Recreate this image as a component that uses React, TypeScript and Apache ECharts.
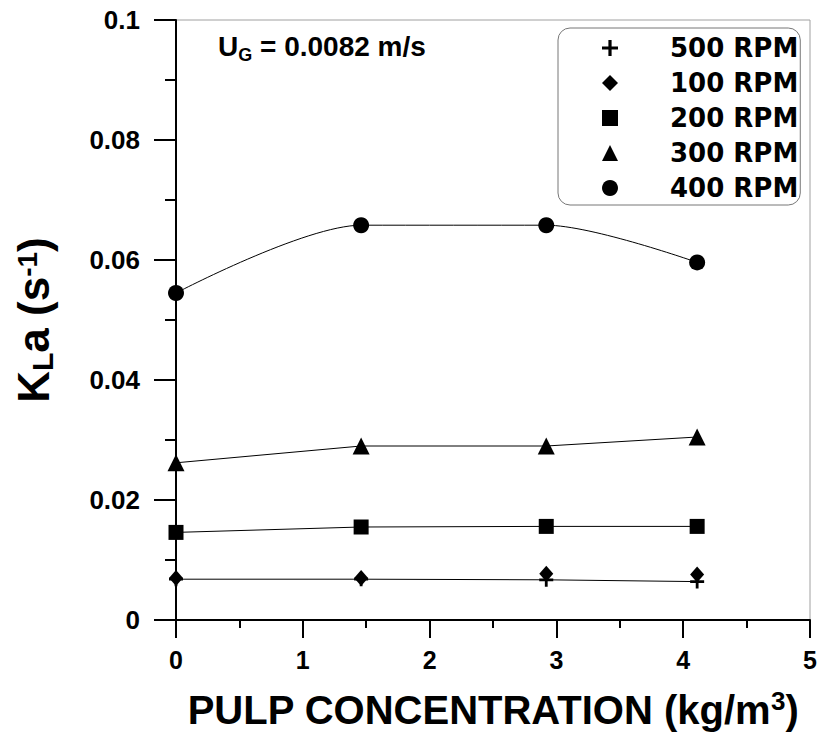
import React, { useEffect, useRef } from "react";
import * as echarts from "echarts";

// Pulp concentration (kg/m3) at which kLa was measured
const concentration = [0, 1.46, 2.92, 4.11];

// kLa (s^-1) for each impeller speed
const rpm500 = [0.0068, 0.0068, 0.0067, 0.0064];
const rpm100 = [0.007, 0.007, 0.0077, 0.0076];
const rpm200 = [0.0146, 0.0155, 0.0156, 0.0156];
const rpm300 = [0.0262, 0.029, 0.029, 0.0305];
const rpm400 = [0.0545, 0.0658, 0.0658, 0.0596];

const seriesNames = ["500 RPM", "100 RPM", "200 RPM", "300 RPM", "400 RPM"];
const xTicks = [0, 1, 2, 3, 4, 5];

const PLUS = "path://M4,0H6V4H10V6H6V10H4V6H0V4H4Z";
const FONT = "'Liberation Sans', Arial, Helvetica, sans-serif";
const WIDE = "'DejaVu Sans', Verdana, sans-serif";

const pairs = (ys: number[]) => concentration.map((x, i) => [x, ys[i]]);

const bold = (size: number, extra: any = {}) => ({
  fontFamily: FONT,
  fontWeight: "bold",
  fontSize: size,
  lineHeight: size,
  color: "#000",
  ...extra,
});

export default function App() {
  const ref = useRef<HTMLDivElement>(null);

  useEffect(() => {
    if (!ref.current) return;
    const chart = echarts.init(ref.current, null, { renderer: "svg" });

    const symbols = [PLUS, "diamond", "rect", "triangle", "circle"];
    const sizes: any[] = [14, [14, 16], 15, 17, 16];
    const values = [rpm500, rpm100, rpm200, rpm300, rpm400];

    chart.setOption({
      animation: false,
      backgroundColor: "#fff",
      textStyle: { fontFamily: FONT },
      grid: {
        left: 176,
        top: 20,
        right: 8,
        bottom: 114,
        outerBoundsMode: "none",
        containLabel: false,
        show: true,
        borderColor: "#a0a0a0",
        borderWidth: 1,
      },
      legend: {
        orient: "vertical",
        left: 558,
        top: 28,
        padding: [7, 2, 4, 44],
        itemWidth: 16,
        itemHeight: 16,
        itemGap: 9,
        borderColor: "#777",
        borderWidth: 1,
        borderRadius: 12,
        textStyle: {
          fontFamily: WIDE,
          fontWeight: "bold",
          fontSize: 26,
          lineHeight: 26,
          color: "#000",
          padding: [0, 0, 0, 47],
        },
        data: seriesNames.map((n, i) => ({ name: n, icon: symbols[i] })),
      },
      xAxis: {
        type: "value",
        min: 0,
        max: 5,
        interval: 1,
        name: "{b|PULP CONCENTRATION (kg/m}{sup|3}{b|)}",
        nameLocation: "middle",
        nameGap: 68,
        nameTextStyle: {
          rich: {
            b: bold(40, { padding: [3, 0, 0, 0] }),
            sup: bold(26, { verticalAlign: "top" }),
          },
        },
        axisLine: { lineStyle: { color: "#000", width: 2 } },
        axisTick: { length: 18, lineStyle: { color: "#000", width: 2 } },
        minorTick: { show: true, splitNumber: 2, length: 8, lineStyle: { color: "#000", width: 2 } },
        splitLine: { show: false },
        axisLabel: {
          margin: 27,
          fontFamily: FONT,
          fontWeight: "bold",
          fontSize: 25,
          color: "#000",
          formatter: (v: number) => (xTicks.includes(v) ? String(v) : ""),
        },
      },
      yAxis: {
        type: "value",
        min: 0,
        max: 0.1,
        interval: 0.02,
        name: "{b|K}{sub|L}{b|a (s}{sup|-1}{b|)}",
        nameLocation: "middle",
        nameRotate: 90,
        nameGap: 119,
        nameTextStyle: {
          rich: {
            b: bold(44, { padding: [5, 0, 9, 0] }),
            sub: bold(30, { verticalAlign: "bottom" }),
            sup: bold(28, { verticalAlign: "top" }),
          },
        },
        axisLine: { lineStyle: { color: "#000", width: 2 } },
        axisTick: { length: 22, lineStyle: { color: "#000", width: 2 } },
        minorTick: { show: true, splitNumber: 2, length: 11, lineStyle: { color: "#000", width: 2 } },
        splitLine: { show: false },
        axisLabel: {
          margin: 36,
          fontFamily: FONT,
          fontWeight: "bold",
          fontSize: 26,
          color: "#000",
        },
      },
      graphic: [
        {
          type: "text",
          left: 218,
          top: 32,
          style: {
            text: "{m|U}{s|G}{m| = 0.0082 m/s}",
            rich: {
              m: {
                fontFamily: FONT,
                fontWeight: "bold",
                fontSize: 28,
                lineHeight: 28,
                padding: [0, 0, 7, 0],
                fill: "#000",
              },
              s: {
                fontFamily: FONT,
                fontWeight: "bold",
                fontSize: 18,
                lineHeight: 18,
                verticalAlign: "bottom",
                fill: "#000",
              },
            },
          },
        },
      ],
      series: seriesNames.map((name, i) =>
        i === 1
          ? {
              name,
              type: "scatter",
              data: pairs(values[i]),
              symbol: symbols[i],
              symbolSize: sizes[i],
              itemStyle: { color: "#000", opacity: 1 },
              z: 3,
            }
          : {
              name,
              type: "line",
              data: pairs(values[i]),
              symbol: symbols[i],
              symbolSize: sizes[i],
              smooth: i === 4 ? 0.3 : false,
              smoothMonotone: i === 4 ? "x" : undefined,
              lineStyle: { color: "#000", width: 1 },
              itemStyle: { color: "#000" },
              z: 2 + i,
            }
      ),
    });

    return () => chart.dispose();
  }, []);

  return (
    <div
      ref={ref}
      style={{ position: "fixed", left: 0, top: 0, width: 818, height: 734, background: "#fff" }}
    />
  );
}
